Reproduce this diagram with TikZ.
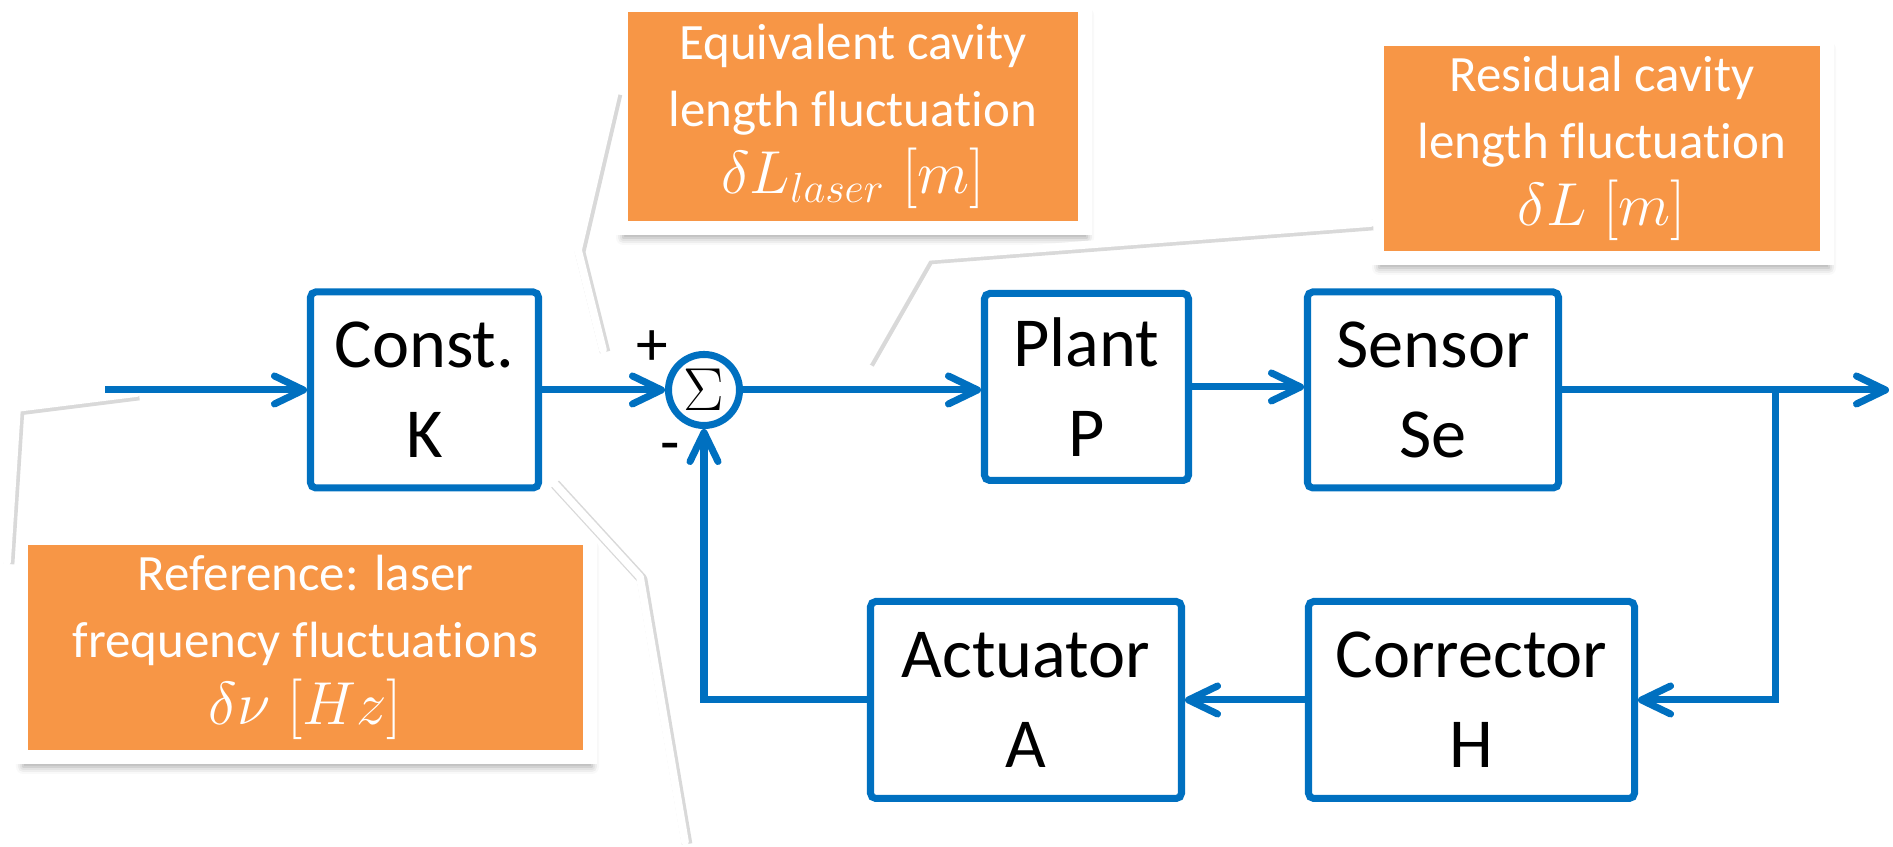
\documentclass[tikz,border=0pt]{standalone}
\usepackage{fontspec}
\setmainfont{Carlito}[Ligatures=NoCommon]
\usepackage{xcolor}
\usepackage{tikz}
\usetikzlibrary{positioning,arrows.meta,shadows.blur}
\definecolor{loopblue}{HTML}{0070C0}
\definecolor{noteorange}{HTML}{F79646}
\newcommand{\notemath}[1]{{\fontsize{16.5}{18.5}\selectfont$#1$}}
\newcommand{\subtext}[1]{\mbox{\fontsize{13}{13}\selectfont$#1$}}

\begin{document}
\begin{tikzpicture}[
				block/.style={draw=loopblue, fill=white, rectangle, rounded corners=1.5pt, line width=2pt,
						align=center, inner sep=0pt, font=\fontsize{20}{25.6}\selectfont},
				sumnode/.style={draw=loopblue, fill=white, circle, line width=2pt, inner sep=0pt,
						minimum size=0.71cm, font=\fontsize{19}{19}\selectfont},
				note/.style={draw=white, fill=noteorange, rectangle, line width=0.14cm, inner sep=0pt,
						align=center, text=white, font=\fontsize{14.5}{19}\selectfont,
						blur shadow={shadow xshift=0.02cm, shadow yshift=-0.1cm, shadow opacity=35,
							shadow blur radius=0.07cm}},
				sign/.style={font=\fontsize{18}{18}\selectfont, inner sep=0pt},
				ar/.style={-{Straight Barb[length=2.9mm, width=2.8mm, round]}, draw=loopblue, line width=2pt},
				ln/.style={draw=loopblue, line width=2pt, line join=round},
				callout/.style={draw=white, line width=2.2pt, line join=round, line cap=round},
				calloutshade/.style={draw=black!50, opacity=0.3, line width=3pt, line join=round},
			]
			\useasboundingbox (0,0) rectangle (18.93,8.47);
			\node[note, minimum width=4.64cm, minimum height=2.23cm] (equivnote) at (8.53, 7.305)
			{Equivalent cavity\\length fluctuation\\\notemath{\delta L_{\subtext{laser}}\;[m]}};
			\node[note, minimum width=4.50cm, minimum height=2.19cm] (residnote) at (16.02, 6.985)
			{Residual cavity\\length fluctuation\\\notemath{\delta L\;[m]}};
			\node[note, minimum width=5.69cm, minimum height=2.19cm] (refnote) at (3.055, 1.995)
			{Reference: laser\\frequency fluctuations\\\notemath{\delta\nu\;[Hz]}};
			\coordinate (c1a) at (1.37, 4.54);
			\coordinate (c1b) at (0.17, 4.39);
			\coordinate (c1c) at (0.07, 2.85);
			\coordinate (c2a) at (6.15, 7.55);
			\coordinate (c2b) at (5.78, 5.97);
			\coordinate (c2c) at (6.03, 4.97);
			\coordinate (c3a) at (13.71, 6.24);
			\coordinate (c3b) at (9.27, 5.90);
			\coordinate (c3c) at (8.67, 4.85);
			\coordinate (c4a) at (5.53, 3.65);
			\coordinate (c4b) at (6.40, 2.70);
			\coordinate (c4c) at (6.85, 0.05);
			\foreach \a/\b/\c in {c1a/c1b/c1c, c2a/c2b/c2c, c3a/c3b/c3c, c4a/c4b/c4c}{
				\draw[calloutshade, transform canvas={xshift=0.6pt, yshift=-0.6pt}] (\a) -- (\b) -- (\c);
				\draw[callout] (\a) -- (\b) -- (\c);
			}
			\node[block, minimum width=2.28cm, minimum height=1.96cm] (const) at (4.245, 4.57) {Const.\\K};
			\node[sumnode] (sum) at (7.04, 4.57) {$\Sigma$};
			\node[block, minimum width=2.04cm, minimum height=1.87cm] (plant) at (10.865, 4.60) {Plant\\P};
			\node[block, minimum width=2.51cm, minimum height=1.96cm] (sensor) at (14.33, 4.57) {Sensor\\Se};
			\node[block, minimum width=3.11cm, minimum height=1.97cm] (actu) at (10.26, 1.47) {Actuator\\A};
			\node[block, minimum width=3.26cm, minimum height=1.97cm] (corr) at (14.715, 1.47) {Corrector\\H};
			\node[sign] (plus) at (6.52, 4.99) {+};
			\node[sign] (minus) at (6.70, 3.94) {-};
			\coordinate (in) at (1.05, 4.57);
			\coordinate (branch) at (17.75, 4.57);
			\coordinate (out) at (18.89, 4.57);
			\draw[ar] (in) -- (const.west);
			\draw[ar] (const.east) -- (sum.west);
			\draw[ar] (sum.east) -- (sum -| plant.west);
			\draw[ar] (plant.east) -- (plant -| sensor.west);
			\draw[ln] (sensor.east) -- (branch);
			\draw[ar] (branch) -- (out);
			\draw[ar] (branch) |- (corr.east);
			\draw[ar] (corr.west) -- (actu.east);
			\draw[ar] (actu.west) -| (sum.south);
		\end{tikzpicture}
\end{document}
